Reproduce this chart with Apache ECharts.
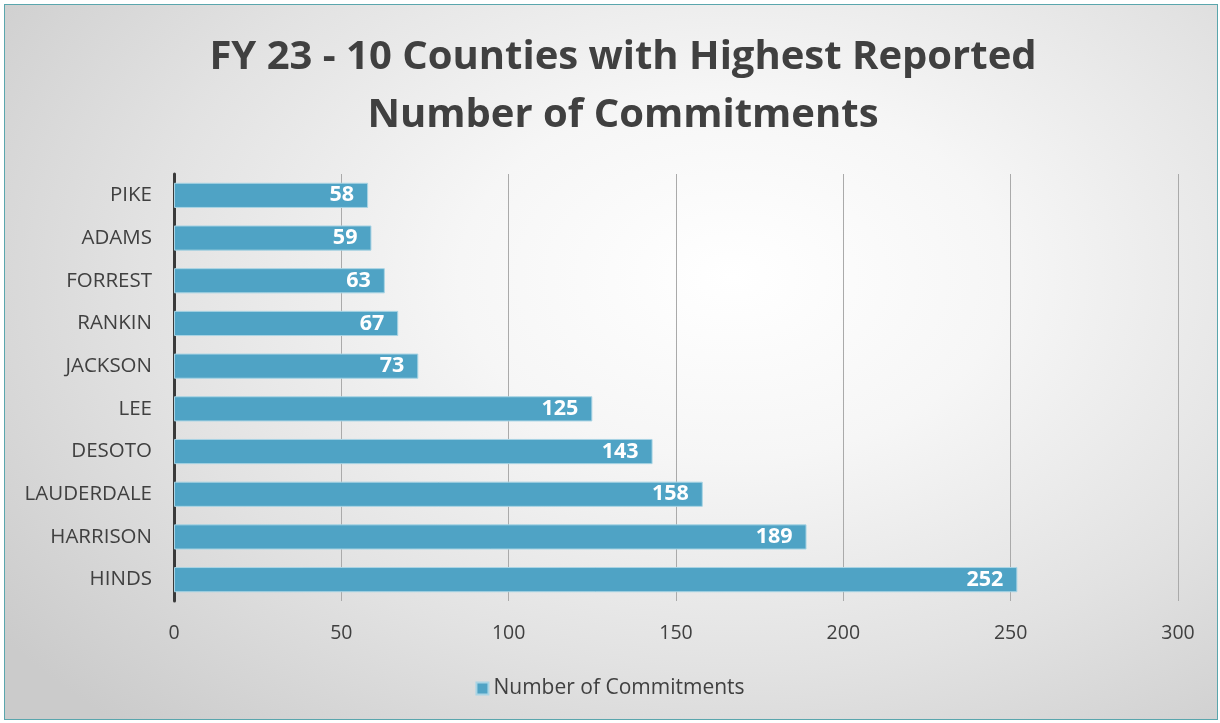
<!DOCTYPE html>
<html>
<head>
<meta charset="utf-8">
<script src="https://cdn.jsdelivr.net/npm/echarts@6/dist/echarts.min.js"></script>
<style>
html,body{margin:0;padding:0;background:#fff;width:1220px;height:723px;overflow:hidden;}
#bg{position:absolute;left:4px;top:4px;width:1212px;height:714px;border:1.5px solid #5aa6ad;
background:radial-gradient(ellipse 75% 85% at 60% 38%, #ffffff 0%, #f6f6f6 30%, #e2e2e2 65%, #cbcbcb 100%);}
#chart{position:absolute;left:0;top:0;width:1220px;height:723px;}
</style>
</head>
<body>
<div id="bg"></div>
<div id="chart"></div>
<script>
const titleText = 'FY 23 - 10 Counties with Highest Reported\nNumber of Commitments';
const seriesName = 'Number of Commitments';
const counties = ['PIKE','ADAMS','FORREST','RANKIN','JACKSON','LEE','DESOTO','LAUDERDALE','HARRISON','HINDS'];
const commitments = [58, 59, 63, 67, 73, 125, 143, 158, 189, 252];
const xTicks = [0, 50, 100, 150, 200, 250, 300];

const chart = echarts.init(document.getElementById('chart'), null, {renderer:'canvas'});
const font = '"Open Sans", sans-serif';
chart.setOption({
  backgroundColor: 'transparent',
  animation: false,
  textStyle: {fontFamily: font},
  title: {
    text: titleText,
    left: 618, top: 24, textAlign: 'center',
    textStyle: {fontFamily: font, fontSize: 40, fontWeight: 'bold', color: '#404040', lineHeight: 58}
  },
  legend: {
    data: [seriesName],
    left: 'center', top: 673,
    itemWidth: 12, itemHeight: 12, icon: 'rect', itemGap: 7,
    textStyle: {fontFamily: font, fontSize: 21, color: '#404040'}
  },
  grid: {left: 174, right: 42, top: 174, bottom: 122, containLabel: false},
  xAxis: {
    type: 'value', min: xTicks[0], max: xTicks[xTicks.length-1], interval: 50,
    axisLine: {show: false}, axisTick: {show: false},
    axisLabel: {fontFamily: font, fontSize: 19.5, color: '#404040', margin: 22},
    splitLine: {show: true, lineStyle: {color: '#aaaaaa', width: 1}}
  },
  yAxis: {
    type: 'category', data: counties, inverse: true,
    axisLine: {show: true, lineStyle: {color: '#3a3a3a', width: 3}},
    axisTick: {show: false},
    axisLabel: {fontFamily: font, fontSize: 20.5, color: '#404040', margin: 22}
  },
  series: [{
    name: seriesName, type: 'bar', data: commitments,
    barCategoryGap: '41%',
    itemStyle: {color: '#4fa3c5', borderColor: '#a9d4e4', borderWidth: 1},
    label: {show: true, position: 'insideRight', distance: 14,
      fontFamily: font, fontSize: 21.5, fontWeight: 'bold', color: '#ffffff'}
  }]
});
</script>
</body>
</html>
